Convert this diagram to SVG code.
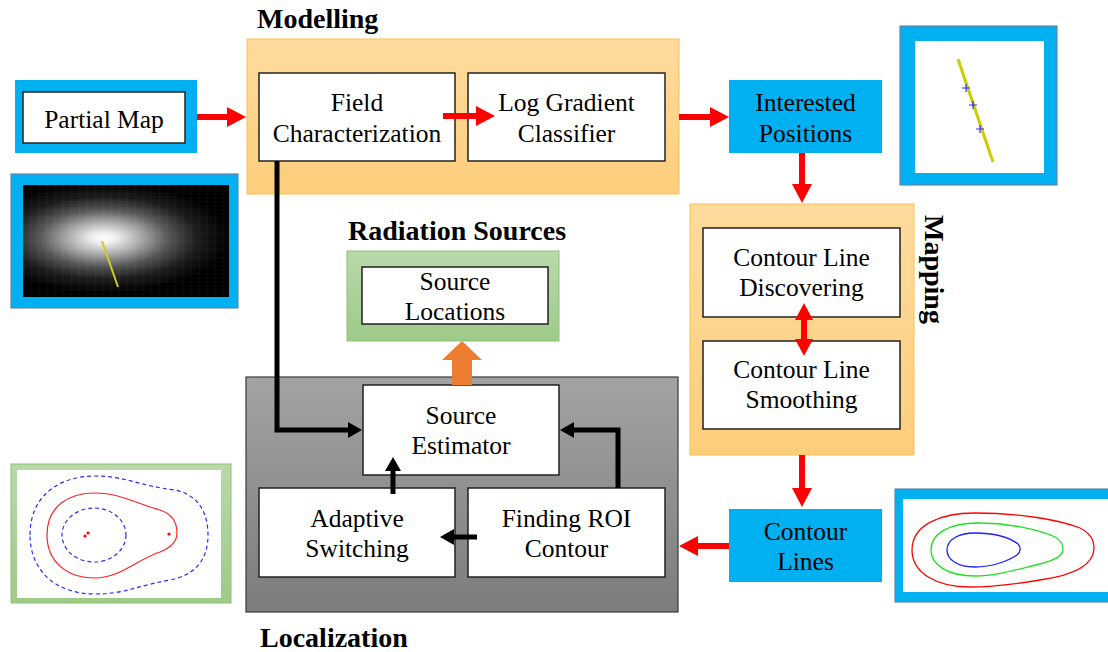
<svg xmlns="http://www.w3.org/2000/svg" width="1108" height="652" viewBox="0 0 1108 652">
<style>
.t{font-family:"Liberation Serif","Times New Roman",serif;font-size:25.5px;fill:#000;text-anchor:middle}
.h{font-family:"Liberation Serif","Times New Roman",serif;font-size:28px;font-weight:bold;fill:#000}
.box{fill:#fff;stroke:#222;stroke-width:1.5}
.blue{fill:#00B0F0}
.frame{fill:#00B0F0;stroke:#6487ad;stroke-width:1.2}
.red{stroke:#f00;stroke-width:6;fill:none}
.blk{stroke:#000;stroke-width:5;fill:none;stroke-linejoin:miter}
</style>
<defs>
<linearGradient id="gOrange" x1="0" y1="0" x2="0" y2="1"><stop offset="0" stop-color="#FEDB9D"/><stop offset="1" stop-color="#FDCE7C"/></linearGradient>
<linearGradient id="gGray" x1="0" y1="0" x2="0" y2="1"><stop offset="0" stop-color="#A3A3A3"/><stop offset="1" stop-color="#7C7C7C"/></linearGradient>
<linearGradient id="gGreen" x1="0" y1="0" x2="0" y2="1"><stop offset="0" stop-color="#B9D9AB"/><stop offset="1" stop-color="#9ECA88"/></linearGradient>
<radialGradient id="gBlob" gradientUnits="userSpaceOnUse" cx="104" cy="238" r="125" gradientTransform="translate(104 238) scale(1 0.44) translate(-104 -238)">
<stop offset="0" stop-color="#ffffff"/><stop offset="0.1" stop-color="#eeeeee"/><stop offset="0.3" stop-color="#a8a8a8"/><stop offset="0.52" stop-color="#555"/><stop offset="0.75" stop-color="#1c1c1c"/><stop offset="1" stop-color="#000"/></radialGradient>
<pattern id="grid" patternUnits="userSpaceOnUse" x="23" y="185" width="8" height="8"><path d="M0,0 H8 M0,0 V8" stroke="#fff" stroke-opacity="0.06" stroke-width="1"/></pattern>
<marker id="rh" markerUnits="userSpaceOnUse" markerWidth="20" markerHeight="20" viewBox="0 0 20 20" refX="0" refY="10" orient="auto"><path d="M0,0 L19,10 L0,20 Z" fill="#f00"/></marker>
<marker id="rh2" markerUnits="userSpaceOnUse" markerWidth="20" markerHeight="20" viewBox="0 0 20 20" refX="0" refY="10" orient="auto-start-reverse"><path d="M0,1 L17,10 L0,19 Z" fill="#f00"/></marker>
<marker id="kh" markerUnits="userSpaceOnUse" markerWidth="15" markerHeight="16" viewBox="0 0 15 16" refX="0" refY="8" orient="auto"><path d="M0,0 L14,8 L0,16 Z" fill="#000"/></marker>
</defs>
<rect width="1108" height="652" fill="#fff"/>

<g id="modelling">
<rect x="247" y="39" width="432" height="155" fill="url(#gOrange)" stroke="#F9C349" stroke-width="1"/>
<text class="h" x="257" y="28">Modelling</text>
</g>
<g id="partial-map">
<rect class="blue" x="15" y="80" width="182" height="73"/>
<rect class="box" x="23" y="92" width="162" height="51"/>
<text class="t" x="104" y="128">Partial Map</text>
</g>
<g id="field-characterization">
<rect class="box" x="259" y="73" width="196" height="88"/>
<text class="t" x="357" y="111">Field</text>
<text class="t" x="357" y="142">Characterization</text>
</g>
<g id="log-gradient-classifier">
<rect class="box" x="468" y="73" width="197" height="88"/>
<text class="t" x="566.5" y="111">Log Gradient</text>
<text class="t" x="566.5" y="142">Classifier</text>
</g>
<g id="interested-positions">
<rect class="blue" x="729" y="80" width="153" height="73"/>
<text class="t" x="805.5" y="111">Interested</text>
<text class="t" x="805.5" y="142">Positions</text>
</g>
<g id="img-positions">
<rect class="frame" x="900" y="26" width="157" height="159"/>
<rect x="915" y="41" width="129" height="132" fill="#fff"/>
<line x1="958" y1="59" x2="993" y2="162" stroke="#cccc00" stroke-width="3"/>
<path d="M962,88 H970 M966,84 V92 M969,105 H977 M973,101 V109 M976,129 H984 M980,125 V133" stroke="#3030ff" stroke-width="1.2"/>
</g>
<g id="img-heatmap">
<rect class="frame" x="11" y="174" width="227" height="134"/>
<rect x="23" y="185" width="206" height="112" fill="url(#gBlob)"/>
<rect x="23" y="185" width="206" height="112" fill="url(#grid)"/>
<line x1="102" y1="241" x2="118" y2="287" stroke="#cccc22" stroke-width="2"/>
</g>
<g id="mapping">
<rect x="690" y="204" width="224" height="251" fill="url(#gOrange)" stroke="#F9C349" stroke-width="1"/>
<text class="h" transform="translate(925 215) rotate(90)">Mapping</text>
</g>
<g id="contour-line-discovering">
<rect class="box" x="703" y="228" width="197" height="89"/>
<text class="t" x="801.5" y="266">Contour Line</text>
<text class="t" x="801.5" y="296">Discovering</text>
</g>
<g id="contour-line-smoothing">
<rect class="box" x="703" y="341" width="197" height="88"/>
<text class="t" x="801.5" y="378">Contour Line</text>
<text class="t" x="801.5" y="408">Smoothing</text>
</g>
<g id="contour-lines">
<rect class="blue" x="729" y="509" width="153" height="73"/>
<text class="t" x="805.5" y="540">Contour</text>
<text class="t" x="805.5" y="570">Lines</text>
</g>
<g id="img-contours">
<rect class="frame" x="895" y="489" width="220" height="113"/>
<rect x="903" y="499" width="210" height="93" fill="#fff"/>
<path d="M912,550 C912,525 940,513 975,513 C1020,513 1060,520 1080,528 C1090,533 1094,540 1094,548 C1094,565 1075,575 1040,580 C1010,585 990,587 970,587 C935,587 912,572 912,550 Z" fill="none" stroke="#f00" stroke-width="1.3"/>
<path d="M931,550 C931,533 950,523 978,523 C1010,523 1040,530 1055,537 C1062,541 1063,546 1063,549 C1063,556 1055,560 1040,564 C1015,570 995,576 975,576 C948,576 931,565 931,550 Z" fill="none" stroke="#1ee01e" stroke-width="1.3"/>
<path d="M947,550 C947,540 958,533 975,533 C995,533 1010,538 1018,544 C1021,547 1021,552 1017,555 C1008,561 992,567 975,567 C958,567 947,560 947,550 Z" fill="none" stroke="#1e1eff" stroke-width="1.3"/>
</g>
<g id="radiation-sources">
<text class="h" x="348" y="240">Radiation Sources</text>
<rect x="347" y="251" width="212" height="90" fill="url(#gGreen)" stroke="#8ec271" stroke-width="1"/>
<rect class="box" x="362" y="267" width="186" height="57"/>
<text class="t" x="455" y="290">Source</text>
<text class="t" x="455" y="320">Locations</text>
</g>
<g id="localization">
<rect x="246" y="377" width="432" height="235" fill="url(#gGray)" stroke="#3a3a3a" stroke-width="1.2"/>
<text class="h" x="260" y="647">Localization</text>
</g>
<g id="source-estimator">
<rect class="box" x="363" y="385" width="196" height="90"/>
<text class="t" x="461" y="424">Source</text>
<text class="t" x="461" y="454">Estimator</text>
</g>
<g id="adaptive-switching">
<rect class="box" x="259" y="488" width="196" height="89"/>
<text class="t" x="357" y="527">Adaptive</text>
<text class="t" x="357" y="557">Switching</text>
</g>
<g id="finding-roi-contour">
<rect class="box" x="468" y="488" width="197" height="89"/>
<text class="t" x="566.5" y="527">Finding ROI</text>
<text class="t" x="566.5" y="557">Contour</text>
</g>
<g id="img-localization">
<rect x="11" y="464" width="220" height="139" fill="url(#gGreen)" stroke="#8ec271" stroke-width="1"/>
<rect x="17" y="470" width="204" height="128" fill="#fff"/>
<path d="M30,535 C30,495 60,476 95,476 C125,476 140,486 175,490 C200,495 208,515 208,535 C208,560 195,575 170,580 C140,585 125,594 95,594 C55,594 30,570 30,535 Z" fill="none" stroke="#2a2aff" stroke-width="1.2" stroke-dasharray="4,3"/>
<path d="M47,535 C47,505 70,493 95,493 C120,493 140,505 160,510 C175,515 177,525 177,533 C177,542 170,548 160,552 C140,558 120,578 95,578 C65,578 47,560 47,535 Z" fill="none" stroke="#f22" stroke-width="1.2"/>
<ellipse cx="94" cy="535" rx="32" ry="27" fill="none" stroke="#2a2aff" stroke-width="1.2" stroke-dasharray="4,3"/>
<circle cx="85" cy="536" r="1.6" fill="#f00"/><circle cx="88" cy="533" r="1.6" fill="#f00"/><circle cx="169" cy="534" r="1.6" fill="#f00"/>
</g>

<g id="connectors">
<line class="red" x1="197" y1="117" x2="227" y2="117" marker-end="url(#rh)"/>
<line class="red" x1="443" y1="116" x2="476" y2="116" marker-end="url(#rh)"/>
<line class="red" x1="679" y1="117" x2="710" y2="117" marker-end="url(#rh)"/>
<line class="red" x1="802" y1="153" x2="802" y2="184" marker-end="url(#rh)"/>
<line class="red" x1="804" y1="320" x2="804" y2="339" marker-start="url(#rh2)" marker-end="url(#rh2)"/>
<line class="red" x1="802" y1="455" x2="802" y2="488" marker-end="url(#rh)"/>
<line class="red" x1="729" y1="546" x2="698" y2="546" marker-end="url(#rh)"/>
<path class="blk" d="M277,161 V430 H348" marker-end="url(#kh)"/>
<path class="blk" d="M618,488 V430 H574" marker-end="url(#kh)"/>
<line class="blk" x1="393" y1="494" x2="393" y2="471" marker-end="url(#kh)"/>
<line class="blk" x1="477" y1="537" x2="454" y2="537" marker-end="url(#kh)"/>
<path d="M452,385 V360 H442 L462,341 L482,360 H472 V385 Z" fill="#ED7D31"/>
</g>
</svg>
